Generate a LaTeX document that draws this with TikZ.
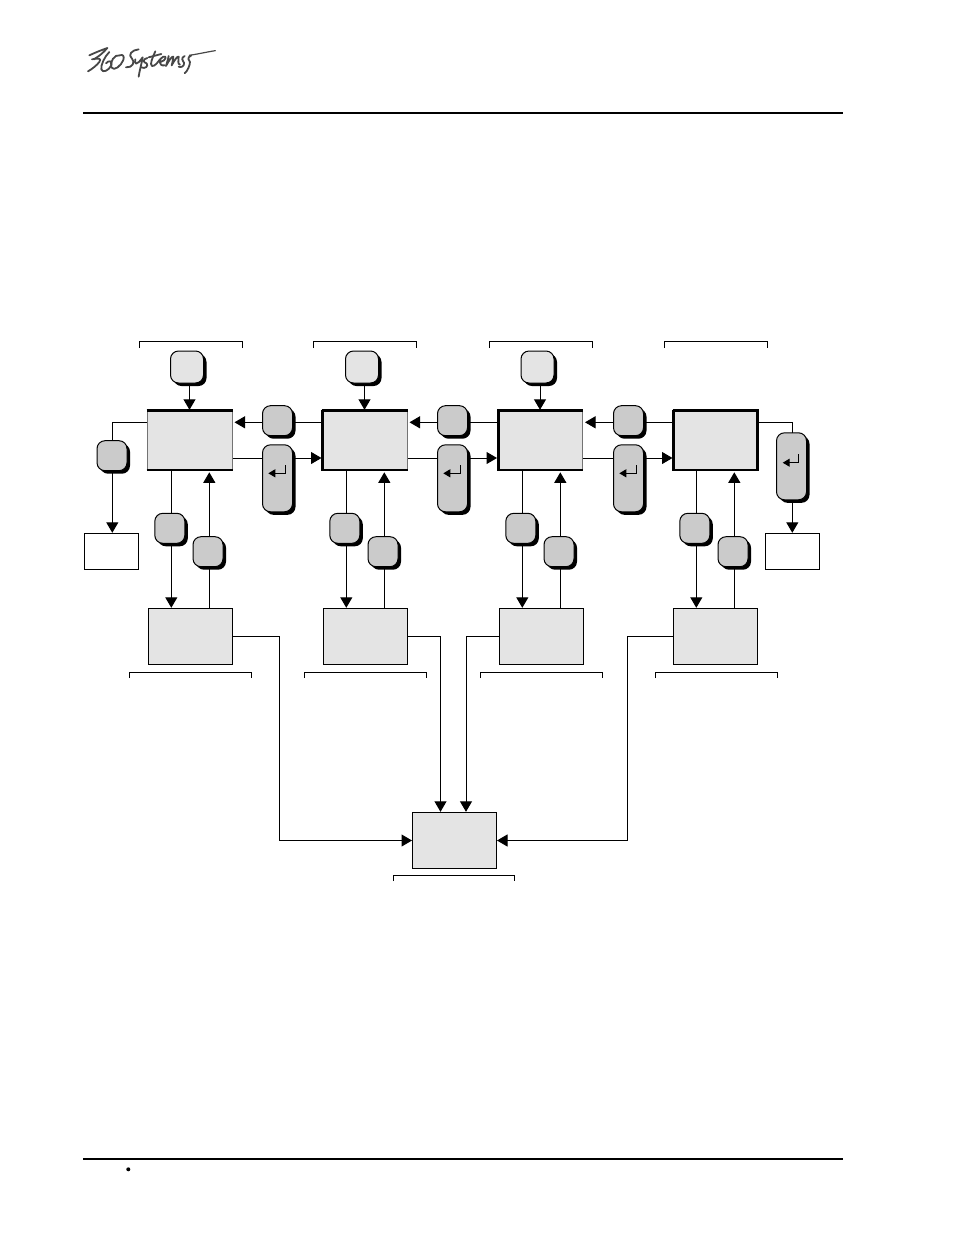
\documentclass[tikz,border=0pt]{standalone}
\usetikzlibrary{arrows.meta,shadows,backgrounds,calc}
\definecolor{lt}{HTML}{E4E4E4}
\definecolor{md}{HTML}{CBCBCB}
\tikzset{
  x=1pt,y=-1pt,
  pillbase/.style={rectangle,rounded corners=8pt,draw=black,line width=1pt,inner sep=0pt,
    general shadow={fill=black,shadow xshift=3pt,shadow yshift=-3pt}},
  lightpill/.style={pillbase,fill=lt,minimum width=33pt,minimum height=32pt},
  grey/.style={pillbase,fill=md,minimum width=30pt,minimum height=30pt},
  longpill/.style={pillbase,fill=md,minimum width=30pt,minimum height=67pt},
  mainbox/.style={rectangle,fill=lt,draw=black!55,line width=1pt,minimum width=85pt,minimum height=60pt,inner sep=0pt},
  heavy/.style={draw=black,line width=3pt},
  medium/.style={draw=black,line width=2pt},
  lowbox/.style={rectangle,fill=lt,draw=black,line width=1pt,minimum width=84pt,minimum height=56pt,inner sep=0pt},
  whitebox/.style={rectangle,fill=white,draw=black,line width=1pt,minimum width=54pt,minimum height=36pt,inner sep=0pt},
  conn/.style={draw=black,line width=1pt},
  arr/.style={conn,-{Triangle[length=10.5pt,width=12pt]}},
  brk/.style={draw=black,line width=1pt},
  rule/.style={draw=black,line width=2pt},
  ret/.style={draw=black,line width=1pt,-{Triangle[length=7pt,width=8pt]}},
  logo/.style={draw=black!72,line width=1.8pt,line cap=round,line join=round}
}
\begin{document}
\begin{tikzpicture}
\useasboundingbox (0,0) rectangle (954,1235);
% logo
\begin{scope}[shift={(70,30)},x=.3333pt,y=-.3333pt,logo]
\draw (58,76) .. controls (75,68) and (95,60) .. (112,54) .. controls (100,68) and (88,78) .. (72,88);
\draw (66,88) .. controls (85,84) and (96,84) .. (88,96) .. controls (80,106) and (68,116) .. (54,124);
\draw (118,66) .. controls (104,80) and (92,104) .. (94,118) .. controls (98,130) and (116,122) .. (124,106);
\draw (108,100) .. controls (116,90) and (128,92) .. (124,106);
\draw (150,76) .. controls (134,72) and (118,96) .. (124,112) .. controls (132,126) and (154,106) .. (160,90) .. controls (164,78) and (158,72) .. (150,76);
\draw (206,58) .. controls (186,60) and (172,74) .. (186,86) .. controls (196,96) and (188,114) .. (168,112);
\draw (196,88) .. controls (192,104) and (200,108) .. (218,82) .. controls (214,105) and (208,125) .. (206,140);
\draw (232,84) .. controls (216,88) and (220,98) .. (230,100) .. controls (236,108) and (226,118) .. (214,112);
\draw (256,64) .. controls (248,82) and (238,104) .. (246,108) .. controls (254,110) and (264,96) .. (270,88);
\draw (236,82) -- (274,72);
\draw (272,96) .. controls (288,92) and (292,76) .. (280,80) .. controls (266,84) and (264,110) .. (284,106);
\draw (296,78) .. controls (294,90) and (290,100) .. (288,108) .. controls (298,90) and (306,78) .. (310,80) .. controls (310,90) and (306,100) .. (305,106) .. controls (314,90) and (322,78) .. (326,80) .. controls (326,92) and (322,102) .. (330,104);
\draw (344,78) .. controls (330,84) and (340,94) .. (342,98) .. controls (344,108) and (334,114) .. (326,110);
\draw (364,76) .. controls (348,84) and (358,92) .. (360,96) .. controls (360,106) and (352,124) .. (344,130);
\draw[line width=1.2pt] (358,76) .. controls (385,72) and (410,66) .. (436,62);
\end{scope}
\coordinate (hl) at (83,112.5); \coordinate (hr) at (843,112.5);
\coordinate (fl) at (83,1159.3); \coordinate (fr) at (843,1159.3);
\draw[rule] (hl) -- (hr);
\draw[rule] (fl) -- (fr);
\fill (128.3,1169.3) circle (2);

% columns: main-box offset / low-box offset / top bracket offset / lower bracket offset
\foreach \n/\o/\l/\t/\b in {1/0/0/0/0,2/175/175/174/175,3/350.5/351/350/351,4/526/525/525/526}{
  \node[mainbox] (box\n) at (189.5+\o,440.3) {};
  \node[lowbox] (low\n) at (190.5+\l,636.3) {};
  \node[grey] (dn\n) at (169.8+\l,528.3) {};
  \node[grey] (up\n) at (208+\l,551.7) {};
  \coordinate (dnx\n) at (171.3+\l,0);
  \coordinate (upx\n) at (209.3+\l,0);
  \begin{scope}[on background layer]
    \draw[arr] (box\n.south -| dnx\n) -- (low\n.north -| dnx\n);
    \draw[arr] (low\n.north -| upx\n) -- ([yshift=-1.5pt]box\n.south -| upx\n);
  \end{scope}
  \coordinate (ta\n) at (139.3+\t,348); \coordinate (tb\n) at (139.3+\t,341.3);
  \coordinate (tc\n) at (242.3+\t,341.3); \coordinate (td\n) at (242.3+\t,348);
  \draw[brk] (ta\n) -- (tb\n) -- (tc\n) -- (td\n);
  \coordinate (la\n) at (129.3+\b,678); \coordinate (lb\n) at (129.3+\b,672.3);
  \coordinate (lc\n) at (251.7+\b,672.3); \coordinate (ld\n) at (251.7+\b,678);
  \draw[brk] (la\n) -- (lb\n) -- (lc\n) -- (ld\n);
  % heavy top and bottom edges
  \draw[heavy] ([yshift=-1pt]box\n.north west) -- ([yshift=-1pt]box\n.north east);
  \draw[medium] ([yshift=.5pt]box\n.south west) -- ([yshift=.5pt]box\n.south east);
}
% heavy left edges
\foreach \n in {2,3,4}{
  \draw[heavy] ([xshift=1pt]box\n.north west) -- ([xshift=1pt]box\n.south west);
}
\draw[heavy] ([xshift=-1pt]box4.north east) -- ([xshift=-1pt]box4.south east);
% top pills
\foreach \n/\o in {1/0,2/175,3/350.5}{
  \node[lightpill] (top\n) at (187+\o,367) {};
  \begin{scope}[on background layer]
    \draw[arr] (top\n.south -| box\n.north) -- (box\n.north);
  \end{scope}
}
% between pills
\foreach \n/\m/\o in {1/2/0,2/3/175,3/4/351}{
  \node[grey] (bk\n) at (277.5+\o,420.7) {};
  \node[longpill] (rt\n) at (277.5+\o,478.3) {};
  \coordinate (by\n) at (0,422.3);
  \coordinate (fy\n) at (0,458);
  \begin{scope}[on background layer]
    \draw[arr] (box\m.west |- by\n) -- ([xshift=2pt]box\n.east |- by\n);
    \draw[arr] (box\n.east |- fy\n) -- (box\m.west |- fy\n);
  \end{scope}
  \coordinate (ra\n) at (285+\o,465);
  \coordinate (rb\n) at (285+\o,473.3);
  \coordinate (rc\n) at (268.3+\o,473.3);
  \draw[ret] (ra\n) -- (rb\n) -- (rc\n);
}
% left side
\node[grey] (lp) at (112,455.7) {};
\node[whitebox] (wl) at (111.3,551.3) {};
\coordinate (lcor) at (112.3,422.3);
\begin{scope}[on background layer]
  \draw[arr] (box1.west |- lcor) -- (lcor) -- (lcor |- wl.north);
\end{scope}
% right side
\node[longpill] (rp) at (791.5,466.3) {};
\node[whitebox] (wr) at (792,551.3) {};
\coordinate (rcor) at (792.3,422.3);
\begin{scope}[on background layer]
  \draw[arr] (box4.east |- rcor) -- (rcor) -- (rcor |- wr.north);
\end{scope}
\coordinate (ra4) at (798.3,454); \coordinate (rb4) at (798.3,462.7); \coordinate (rc4) at (782.7,462.7);
\draw[ret] (ra4) -- (rb4) -- (rc4);
% central
\node[lowbox] (cen) at (454.5,840.3) {};
\coordinate (ca) at (393.5,881); \coordinate (cb) at (393.5,875); \coordinate (cc) at (514.5,875); \coordinate (cd) at (514.5,881);
\draw[brk] (ca) -- (cb) -- (cc) -- (cd);
\coordinate (m1) at (279.3,636.3); \coordinate (m2) at (440.5,636.3); \coordinate (m3) at (466,636.3); \coordinate (m4) at (627.3,636.3);
\coordinate (cy) at (0,840.5);
\draw[arr] (low1.east) -- (m1) -- (m1 |- cy) -- (cen.west |- cy);
\draw[arr] (low2.east) -- (m2) -- (m2 |- cen.north);
\draw[arr] (low3.west) -- (m3) -- (m3 |- cen.north);
\draw[arr] (low4.west) -- (m4) -- (m4 |- cy) -- (cen.east |- cy);
\end{tikzpicture}
\end{document}
